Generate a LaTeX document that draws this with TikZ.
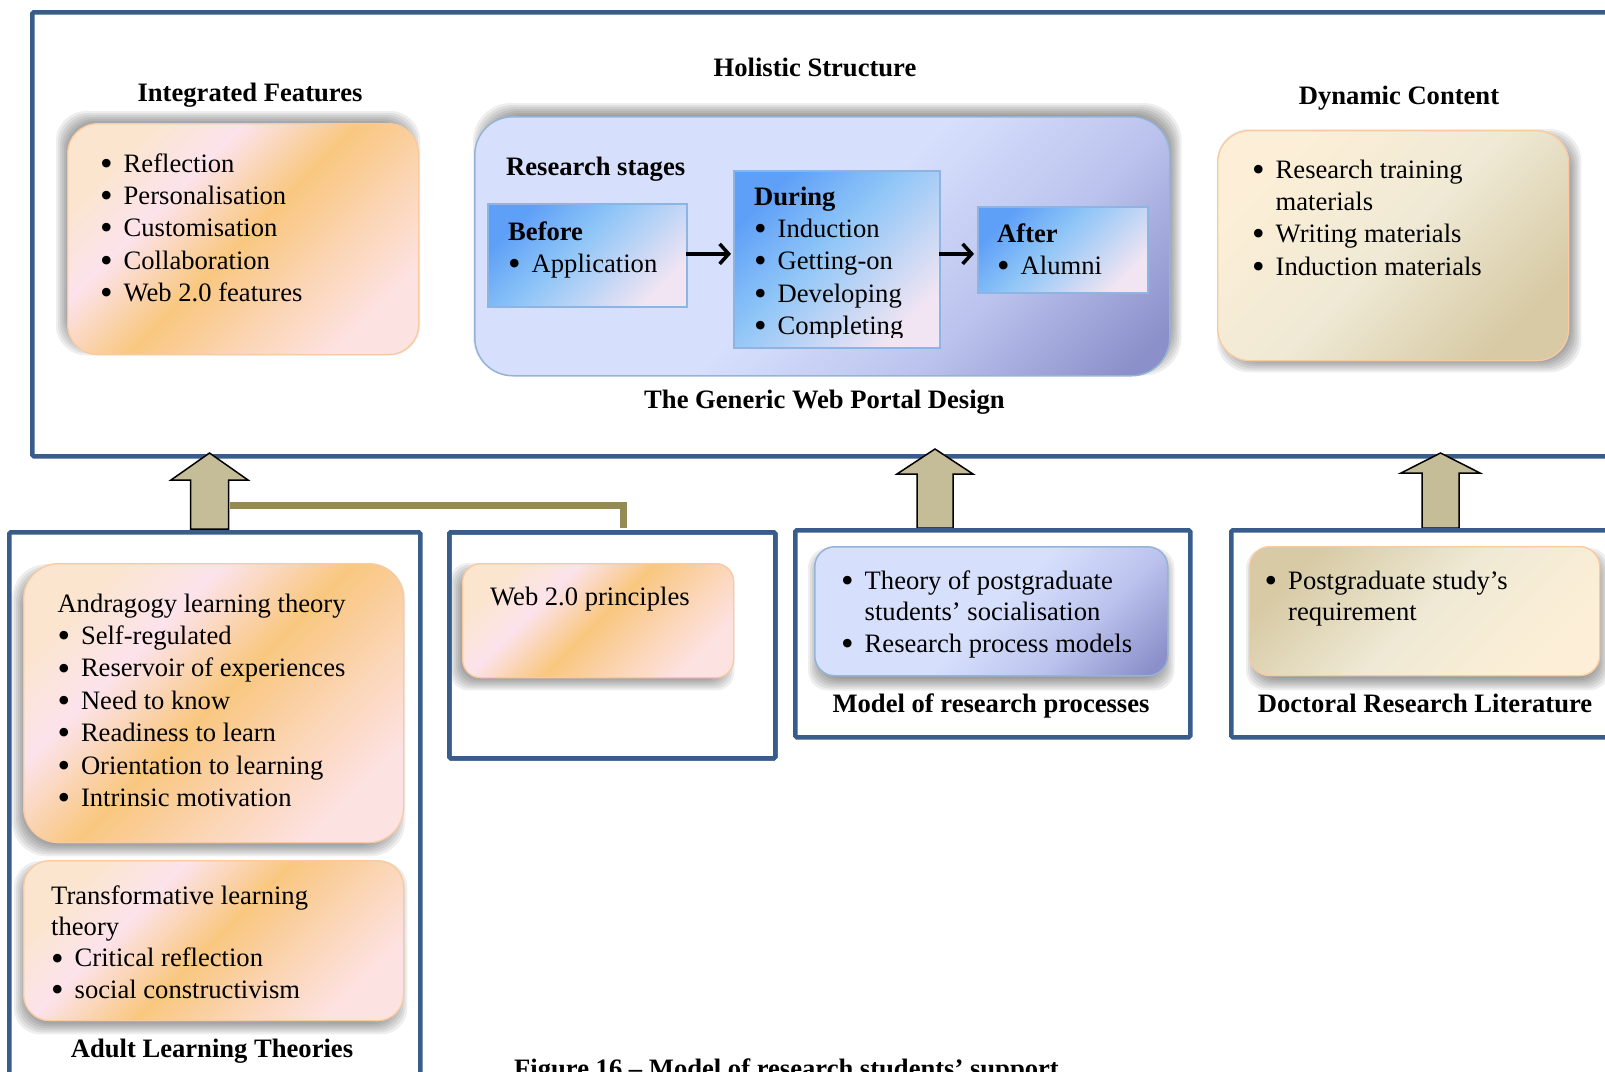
\documentclass[tikz,border=0pt]{standalone}
\usepackage{fontspec}
\setmainfont{Liberation Serif}
\usetikzlibrary{calc,arrows.meta}

\definecolor{frameblue}{HTML}{385D8A}
\definecolor{arrowtan}{HTML}{C4BD97}
\definecolor{connolive}{HTML}{948A54}
\definecolor{peachA}{HTML}{FBE5CF}
\definecolor{peachB}{HTML}{FCE3EC}
\definecolor{peachC}{HTML}{F9C77F}
\definecolor{peachD}{HTML}{FBD5B5}
\definecolor{peachE}{HTML}{FDE2E2}
\definecolor{peachline}{HTML}{F9C9A0}
\definecolor{creamA}{HTML}{FDEFD7}
\definecolor{creamB}{HTML}{EFE9D5}
\definecolor{creamC}{HTML}{D7CAA4}
\definecolor{lavA}{HTML}{D6E0FC}
\definecolor{lavB}{HTML}{BCC4EE}
\definecolor{lavC}{HTML}{8C90CA}
\definecolor{lavline}{HTML}{95B3D7}
\definecolor{skyA}{HTML}{5E9FF7}
\definecolor{skyB}{HTML}{8EC5F7}
\definecolor{skyC}{HTML}{F2E5F3}
\definecolor{skyline}{HTML}{8EB4E3}

\pgfdeclarehorizontalshading{peachsh}{100bp}{color(0bp)=(peachA); color(25bp)=(peachA); color(36bp)=(peachB); color(50bp)=(peachC); color(63bp)=(peachD); color(75bp)=(peachE); color(100bp)=(peachE)}
\pgfdeclarehorizontalshading{creamsh}{100bp}{color(0bp)=(creamA); color(25bp)=(creamA); color(50bp)=(creamB); color(75bp)=(creamC); color(100bp)=(creamC)}
\pgfdeclarehorizontalshading{lavsh}{100bp}{color(0bp)=(lavA); color(25bp)=(lavA); color(50bp)=(lavA); color(66bp)=(lavB); color(82bp)=(lavC); color(100bp)=(lavC)}
\pgfdeclarehorizontalshading{skysh}{100bp}{color(0bp)=(skyA); color(25bp)=(skyA); color(45bp)=(skyB); color(75bp)=(skyC); color(100bp)=(skyC)}

\pgfdeclarelayer{bgl}
\pgfdeclarelayer{shl}
\pgfsetlayers{bgl,shl,main}

\newcommand{\fs}{\fontsize{26.6}{32.4}\selectfont}
\newcommand{\bit}{\makebox[23.5pt][l]{\raisebox{-0.12em}{\scalebox{1.35}{\textbullet}}}}
\newcommand{\ind}{\hspace*{23.5pt}}
% box: style, name, x, y (top-left), w, h
\newcommand{\bx}[6]{\node[#1, anchor=north west, inner sep=0pt, minimum width=#5pt, minimum height=#6pt] (#2) at (#3,#4) {};}
% soft shadow: node, dx, dy, radius
\newcommand{\shad}[4]{%
  \begin{pgfonlayer}{shl}
  \foreach \s in {-6,-4,-2,0,2,4,6}{%
    \pgfmathsetmacro\ax{(#2)+(\s)}\pgfmathsetmacro\ay{(#3)+(\s)}%
    \pgfmathsetmacro\bxx{(#2)-(\s)}\pgfmathsetmacro\by{(#3)-(\s)}%
    \fill[black, opacity=0.065, rounded corners=#4] ($(#1.north west)+(\ax,\ay)$) rectangle ($(#1.south east)+(\bxx,\by)$);}
  \end{pgfonlayer}}

\tikzset{
  frame/.style={draw=frameblue, line width=4.5pt, rounded corners=1.5pt},
  peachbox/.style={shading=peachsh, shading angle=-45, draw=peachline, line width=1.3pt, rounded corners=#1},
  creambox/.style={shading=creamsh, shading angle=-45, draw=peachline, line width=1.3pt, rounded corners=#1},
  creamrev/.style={shading=creamsh, shading angle=135, draw=peachline, line width=1.3pt, rounded corners=#1},
  lavbox/.style={shading=lavsh, shading angle=-45, draw=lavline, line width=1.5pt, rounded corners=#1},
  skybox/.style={shading=skysh, shading angle=-45, draw=skyline, line width=1.8pt},
  txt/.style={inner sep=0pt, anchor=base west},
  hd/.style={inner sep=0pt, anchor=base, font=\fs\bfseries},
  blk/.style={line width=3.5pt, -{Straight Barb[length=9pt,width=20pt]}},
  blockarrow/.style={fill=arrowtan, draw=black, line width=1.5pt, line join=miter},
  conn/.style={draw=connolive, line width=7pt},
}

\begin{document}
\begin{tikzpicture}[x=1pt,y=-1pt, font=\fs]
\useasboundingbox (0,0) rectangle (1605,1071);
\begin{pgfonlayer}{bgl}\fill[white] (0,0) rectangle (1605,1071);\end{pgfonlayer}
\clip (0,0) rectangle (1605,1071);

% ---------- top frame ----------
\bx{frame}{topframe}{30}{10}{1610}{444}

% Integrated features
\node[hd] (inthead) at (250,101.5) {Integrated Features};
\bx{peachbox=30pt}{intbox}{67}{123}{351}{231}
\shad{intbox}{-5}{-6}{30pt}
\node[txt] (intlist) at (100,172) {\begin{tabular}[t]{@{}l@{}}\bit Reflection\\ \bit Personalisation\\ \bit Customisation\\ \bit Collaboration\\ \bit Web 2.0 features\end{tabular}};

% Holistic structure
\node[hd] (holhead) at (815,76) {Holistic Structure};
\bx{lavbox=38pt}{bigbox}{474}{116}{695}{259}
\shad{bigbox}{5}{-7}{38pt}
\node[txt, font=\fs\bfseries] (rstages) at (506,175) {Research stages};

\bx{skybox}{before}{487}{203}{199}{103}
\shad{before}{3}{6}{0pt}
\bx{skybox}{during}{733}{170}{206}{177}
\shad{during}{3}{6}{0pt}
\bx{skybox}{after}{977}{206}{170}{86}
\shad{after}{3}{6}{0pt}

\node[txt] (beforetxt) at (508,240) {\begin{tabular}[t]{@{}l@{}}\textbf{Before}\\ \bit Application\end{tabular}};
\begin{scope}
\clip (733,170) rectangle (939,337);
\node[txt] (duringtxt) at (754,205) {\begin{tabular}[t]{@{}l@{}}\textbf{During}\\ \bit Induction\\ \bit Getting-on\\ \bit Developing\\ \bit Completing\end{tabular}};
\end{scope}
\node[txt] (aftertxt) at (997,242) {\begin{tabular}[t]{@{}l@{}}\textbf{After}\\ \bit Alumni\end{tabular}};

\draw[blk] ($(before.east)+(-2,-1.5)$) -- ($(during.west)+(-2,-5.5)$);
\draw[blk] ($(during.east)+(-1.5,-5.5)$) -- ($(after.west)+(-3,4)$);

\node[hd] (portal) at (824.5,408) {The Generic Web Portal Design};

% Dynamic content
\node[hd] (dynhead) at (1399,104) {Dynamic Content};
\bx{creambox=32pt}{dynbox}{1217}{130}{351}{230}
\shad{dynbox}{6}{5}{32pt}
\node[txt] (dynlist) at (1252,178) {\begin{tabular}[t]{@{}l@{}}\bit Research training\\ \ind materials\\ \bit Writing materials\\ \bit Induction materials\end{tabular}};

% ---------- block arrows ----------
\draw[blockarrow] (209.5,453) -- (248,480) -- (228.5,480) -- (228.5,529) -- (190.5,529) -- (190.5,480) -- (171,480) -- cycle;
\draw[blockarrow] (935,449) -- (973,474) -- (953,474) -- (953,528) -- (917,528) -- (917,474) -- (897,474) -- cycle;
\draw[blockarrow] (1440.5,453) -- (1480,473) -- (1459,473) -- (1459,528) -- (1422,528) -- (1422,473) -- (1401,473) -- cycle;

% ---------- bottom frames ----------
\bx{frame}{frameA}{7}{530}{411}{570}
\bx{frame}{frameB}{447}{530}{326}{226}
\bx{frame}{frameC}{793}{528}{395}{207}
\bx{frame}{frameD}{1229}{528}{411}{207}

\coordinate (connstart) at (230,505);
\draw[conn] (connstart) -| ($(frameB.north west)+(176,-2)$);
\bx{frame}{frameB2}{447}{530}{326}{226}

% Adult learning theories
\bx{peachbox=35pt}{andbox}{23}{563}{380}{279}
\shad{andbox}{-5}{7}{35pt}
\node[txt] (andlist) at (57.3,612) {\begin{tabular}[t]{@{}l@{}}Andragogy learning theory\\ \bit Self-regulated\\ \bit Reservoir of experiences\\ \bit Need to know\\ \bit Readiness to learn\\ \bit Orientation to learning\\ \bit Intrinsic motivation\end{tabular}};
\bx{peachbox=26pt}{transbox}{23}{860}{380}{160}
\shad{transbox}{-3}{7}{26pt}
\node[txt, font=\fontsize{26.6}{31.4}\selectfont] (translist) at (51,904) {\begin{tabular}[t]{@{}l@{}}Transformative learning\\ theory\\ \bit Critical reflection\\ \bit social constructivism\end{tabular}};
\node[hd] (adulthead) at (212,1057) {Adult Learning Theories};

% Web 2.0
\bx{peachbox=18pt}{webbox}{462}{563}{271}{114}
\shad{webbox}{-6}{6}{18pt}
\node[txt] (webtxt) at (490,605) {Web 2.0 principles};

% Model of research processes
\bx{lavbox=20pt}{modelbox}{814}{546}{353}{129}
\shad{modelbox}{0}{8}{20pt}
\node[txt, font=\fontsize{26.6}{31.6}\selectfont] (modellist) at (841,589) {\begin{tabular}[t]{@{}l@{}}\bit Theory of postgraduate\\ \ind students’ socialisation\\ \bit Research process models\end{tabular}};
\node[hd] (modelhead) at (991,712) {Model of research processes};

% Doctoral research literature
\bx{creamrev=20pt}{docbox}{1249}{546}{350}{129}
\shad{docbox}{3}{8}{20pt}
\node[txt, font=\fontsize{26.6}{31.6}\selectfont] (doclist) at (1264.5,589) {\begin{tabular}[t]{@{}l@{}}\bit Postgraduate study’s\\ \ind requirement\end{tabular}};
\node[hd] (dochead) at (1425,712) {Doctoral Research Literature};

% caption
\node[hd] (caption) at (786.5,1077) {Figure 16 – Model of research students’ support};
\end{tikzpicture}
\end{document}
